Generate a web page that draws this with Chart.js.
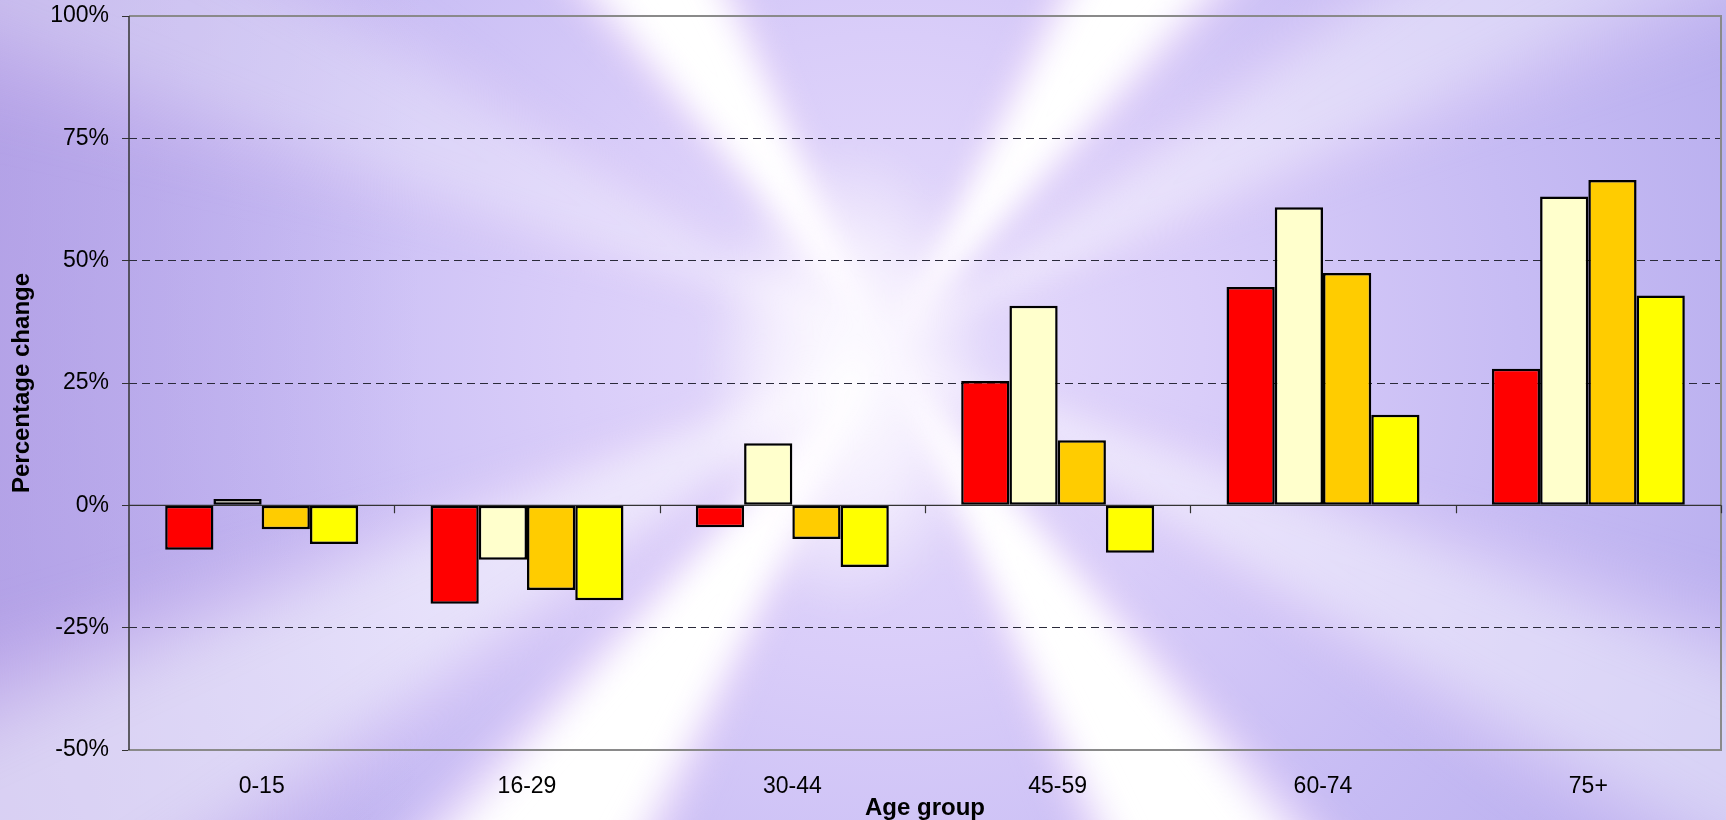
<!DOCTYPE html>
<html>
<head>
<meta charset="utf-8">
<style>
  html, body { margin: 0; padding: 0; background: #c8bcf3; overflow: hidden; }
  #c { display: block; }
</style>
<script src="https://cdn.jsdelivr.net/npm/chart.js@4.4.1/dist/chart.umd.min.js"></script>
</head>
<body>
<canvas id="c" width="1726" height="820"></canvas>
<script>
// Age groups along the category axis
const categories = ['0-15', '16-29', '30-44', '45-59', '60-74', '75+'];

// Percentage change per age group, one array per series
const seriesRed    = [-9.1, -20.1, -4.5, 25.4, 44.6, 27.9];
const seriesCream  = [1.3, -11.1, 12.7, 40.8, 60.9, 63.1];
const seriesOrange = [-4.9, -17.3, -6.9, 13.3, 47.5, 66.5];
const seriesYellow = [-7.9, -19.4, -12.6, -9.7, 18.5, 42.9];

// Value axis range and tick step
const yMin = -50;
const yMax = 100;
const yStep = 25;

const FONT = "'Liberation Sans', Arial, sans-serif";

// Lavender backdrop with a soft light burst
const burstBackground = {
  id: 'burstBackground',
  beforeDraw(chart) {
    const { ctx, width, height } = chart;
    const cx = 887, cy = 349;
    ctx.save();

    const base = ctx.createRadialGradient(cx, cy, 0, cx, cy, 1050);
    base.addColorStop(0, '#e6dcfc');
    base.addColorStop(0.3, '#d9cdf9');
    base.addColorStop(0.6, '#c7bcf4');
    base.addColorStop(1, '#b2a8ec');
    ctx.fillStyle = base;
    ctx.fillRect(0, 0, width, height);

    // purple tint on the far left
    const left = ctx.createLinearGradient(0, 0, 420, 0);
    left.addColorStop(0, 'rgba(176,154,226,0.6)');
    left.addColorStop(1, 'rgba(176,154,226,0)');
    ctx.fillStyle = left;
    ctx.fillRect(0, 0, width, height);

    // rays drawn on a larger offscreen layer, then softened
    const m = 80;
    const off = document.createElement('canvas');
    off.width = width + 2 * m;
    off.height = height + 2 * m;
    const o = off.getContext('2d');
    // [angle deg, strength, core half-width, fade width]
    const rays = [
      [238, 1.0, 4.5, 8], [304.5, 1.0, 4.5, 8], [124.5, 1.0, 5, 8], [58, 1.0, 5, 8],
      [330, 0.4, 2, 10], [25.5, 0.45, 2, 10], [205, 0.3, 2, 11], [151, 0.5, 3, 11]
    ];
    const angDist = (a, b) => { let d = Math.abs(a - b) % 360; return d > 180 ? 360 - d : d; };
    const smooth = t => t * t * (3 - 2 * t);
    const conic = o.createConicGradient(0, cx + m, cy + m);
    for (let a = 0; a <= 360; a += 0.5) {
      let best = 0, bf = 0;
      for (const [ang, s, core, fade] of rays) {
        const d = angDist(a, ang);
        let f = 0;
        if (d <= core) f = 1;
        else if (d < core + fade) f = 1 - smooth((d - core) / fade);
        if (f * s > best) { best = f * s; bf = f; }
      }
      const r = 248 + (255 - 248) * bf;
      const g = 218 + (255 - 218) * bf;
      const b = 252 + (255 - 252) * bf;
      conic.addColorStop(a / 360, `rgba(${r | 0},${g | 0},${b | 0},${best.toFixed(3)})`);
    }
    o.fillStyle = conic;
    o.fillRect(0, 0, off.width, off.height);

    // tall white glow where the bands cross
    o.save();
    o.translate(cx + m - 40, cy + m + 30);
    o.scale(0.6, 1);
    const glow = o.createRadialGradient(0, 0, 0, 0, 0, 240);
    glow.addColorStop(0, 'rgba(255,255,255,0.95)');
    glow.addColorStop(0.55, 'rgba(255,252,255,0.6)');
    glow.addColorStop(1, 'rgba(255,250,255,0)');
    o.fillStyle = glow;
    o.fillRect(-400, -400, 800, 800);
    o.restore();

    ctx.filter = 'blur(14px)';
    ctx.drawImage(off, -m, -m);
    ctx.filter = 'none';
    ctx.restore();
  }
};

// Plot frame, zero line and category separators
const plotFrame = {
  id: 'plotFrame',
  beforeDatasetsDraw(chart) {
    const { ctx, chartArea: a, scales: { x, y } } = chart;
    const y0 = y.getPixelForValue(0);
    ctx.save();
    ctx.strokeStyle = '#8a8a8a';
    ctx.lineWidth = 2;
    ctx.beginPath();
    ctx.moveTo(a.left, a.top);
    ctx.lineTo(a.right, a.top);
    ctx.lineTo(a.right, a.bottom);
    ctx.stroke();

    ctx.strokeStyle = '#333';
    ctx.lineWidth = 1.5;
    ctx.beginPath();
    ctx.moveTo(a.left, a.top);
    ctx.lineTo(a.left, a.bottom);
    ctx.stroke();

    ctx.lineWidth = 1.2;
    ctx.beginPath();
    ctx.moveTo(a.left, y0);
    ctx.lineTo(a.right, y0);
    for (let i = 1; i <= categories.length; i++) {
      const px = Math.round(x.getPixelForValue(i - 0.5)) + 0.5;
      ctx.moveTo(px, y0);
      ctx.lineTo(px, y0 + 8);
    }
    ctx.stroke();
    ctx.restore();
  }
};

const barStyle = { borderColor: '#000', borderWidth: 2.5, borderSkipped: false };

new Chart(document.getElementById('c'), {
  type: 'bar',
  data: {
    labels: categories,
    datasets: [
      { label: 'Series 1', data: seriesRed, backgroundColor: '#ff0000', ...barStyle },
      { label: 'Series 2', data: seriesCream, backgroundColor: '#ffffcc', ...barStyle },
      { label: 'Series 3', data: seriesOrange, backgroundColor: '#ffcc00', ...barStyle },
      { label: 'Series 4', data: seriesYellow, backgroundColor: '#ffff00', ...barStyle }
    ]
  },
  options: {
    responsive: false,
    devicePixelRatio: 1,
    animation: false,
    datasets: { bar: { categoryPercentage: 4 / 5.5, barPercentage: 1 } },
    layout: { padding: { top: 16, right: 5, left: 0, bottom: 0 } },
    plugins: { legend: { display: false }, tooltip: { enabled: false } },
    scales: {
      x: {
        grid: { display: false, drawTicks: false },
        border: { display: true, color: '#8a8a8a', width: 2 },
        ticks: { color: '#000', padding: 23, font: { family: FONT, size: 23 } },
        title: {
          display: true, text: 'Age group', color: '#000',
          font: { family: FONT, size: 24, weight: 'bold', lineHeight: 1.0 },
          padding: { top: 0, bottom: 0 }
        },
        afterFit(s) { s.height = 70; }
      },
      y: {
        min: yMin, max: yMax,
        border: { display: false, dash: [8, 5] },
        grid: {
          color: c => (c.tick && c.tick.value !== 0 && c.tick.value !== yMin && c.tick.value !== yMax) ? '#2a2a3a' : 'rgba(0,0,0,0)',
          lineWidth: 1,
          tickColor: '#333',
          tickLength: 7,
          drawTicks: true
        },
        ticks: {
          stepSize: yStep, color: '#000', padding: 13,
          font: { family: FONT, size: 23 },
          callback: v => v + '%'
        },
        title: {
          display: true, text: 'Percentage change', color: '#000',
          font: { family: FONT, size: 24, weight: 'bold' },
          padding: { top: 8, bottom: 0 }
        },
        afterFit(s) {
          s.width = 129;
          s.paddingTop = 0;
          s.paddingBottom = 0;
        }
      }
    }
  },
  plugins: [burstBackground, plotFrame]
});
</script>
</body>
</html>
